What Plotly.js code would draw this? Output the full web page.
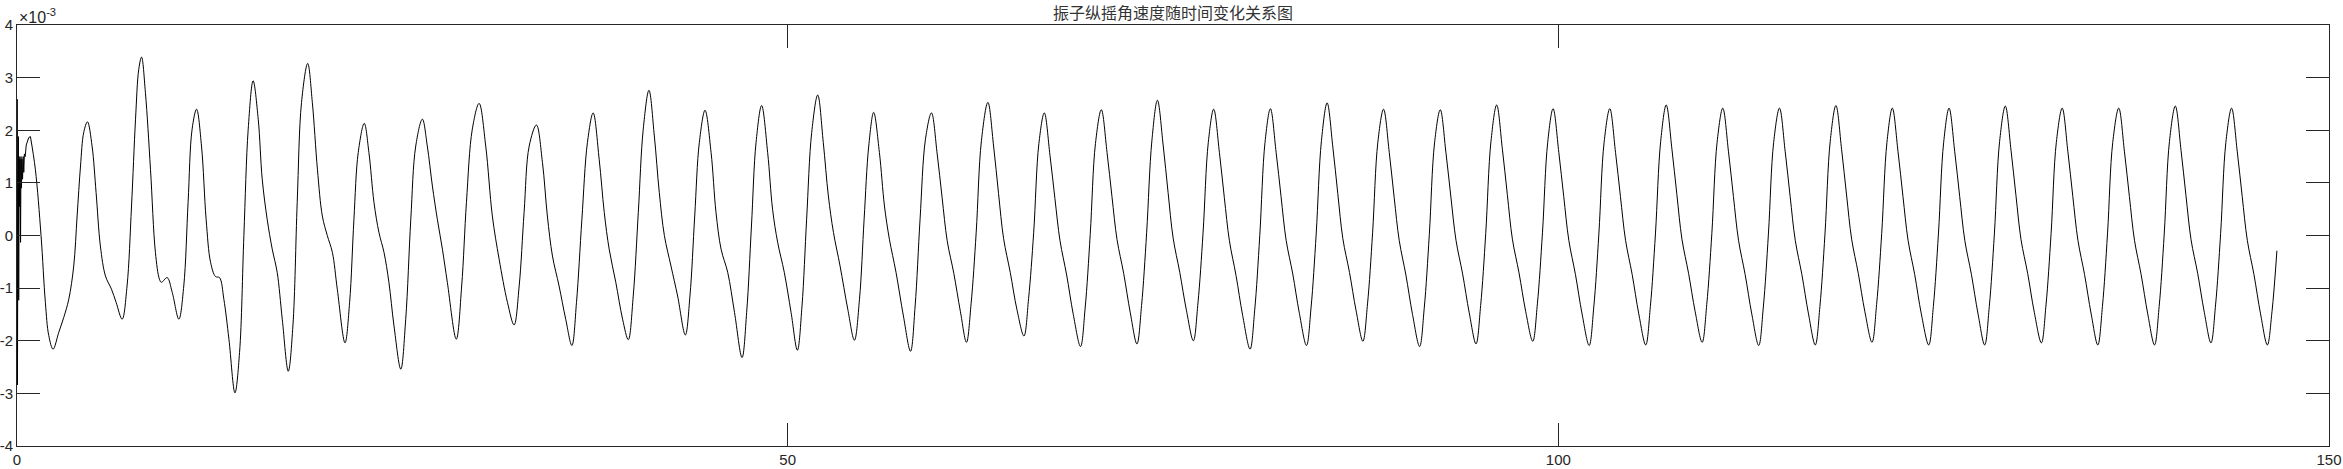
<!DOCTYPE html>
<html>
<head>
<meta charset="utf-8">
<script src="https://cdn.plot.ly/plotly-3.0.1.min.js"></script>
<style>html,body{margin:0;padding:0;background:#fff;}#chart{width:2343px;height:469px;}</style>
</head>
<body>
<div id="chart"></div>
<script>
// Chart text
const titleText = '振子纵摇角速度随时间变化关系图';
const yExponent = '×10<sup>-3</sup>';
const xTicks = [0, 50, 100, 150];
const yTicks = [-4, -3, -2, -1, 0, 1, 2, 3, 4];

// Initial transient (time in s, angular velocity in 1e-3 rad/s)
const tTransient = [0, 0.01, 0.03, 0.06, 0.09, 0.11, 0.14, 0.17, 0.2, 0.23, 0.26, 0.29, 0.32, 0.36, 0.4, 0.44, 0.48, 0.53, 0.6, 0.68, 0.76, 0.87];
const vTransient = [0, 2.59, -2.84, 0.9, 1.88, -1.23, 1.5, 0.55, 1.45, -0.13, 1.5, 0.9, 1.45, 1.07, 1.5, 1.2, 1.55, 1.5, 1.72, 1.82, 1.86, 1.88];

// Main oscillation (time in s)
const tMain = [
  0.87, 1.19, 1.56, 1.84, 2.06, 2.34, 2.71, 3.03, 3.36, 3.68, 3.9, 4.12, 4.33,
  4.57, 4.87, 5.13, 5.41, 5.74, 6.13, 6.43, 6.82, 7.14, 7.43, 7.69, 7.9,
  8.08, 8.33, 8.66, 8.98, 9.24, 9.37, 9.74, 10.07, 10.5, 10.82, 11.1, 11.36,
  11.65, 11.97, 12.27, 12.56, 12.88, 13.14, 13.42, 13.75, 14.14, 14.44, 14.72, 15.0,
  15.32, 15.65, 15.91, 16.23, 16.56, 16.88, 17.21, 17.6, 17.9, 18.18, 18.46,
  18.86, 19.16, 19.49, 19.81, 20.13, 20.46, 20.78, 21.28, 21.58, 21.86, 22.14,
  22.53, 22.83, 23.16, 23.48, 23.81, 24.13, 24.46, 24.9, 25.22, 25.55, 25.87,
  26.3, 26.62, 26.95, 27.27, 27.6, 27.92, 28.5, 28.85, 29.16, 29.54,
  29.98, 30.41, 30.84, 31.28, 31.82, 32.25, 32.58, 32.9, 33.23,
  33.7, 34.09, 34.41, 34.74, 35.17, 35.6, 36.0, 36.3, 36.65, 37.01,
  37.38, 37.77, 38.1, 38.42, 38.85, 39.29, 39.66, 39.98, 40.31, 40.63,
  41.0, 41.35, 41.67, 42.0, 42.43, 42.86, 43.36, 43.66, 43.97, 44.27,
  44.64, 45.03, 45.35, 45.68, 46.11, 46.55, 47.04, 47.34, 47.65, 47.95,
  48.31, 48.7, 49.02, 49.35, 49.78, 50.22, 50.63, 50.93, 51.23, 51.56,
  51.95, 52.31, 52.64, 52.97, 53.4, 53.9, 54.33, 54.66, 54.96, 55.26,
  55.58, 55.95, 56.28, 56.6, 57.03, 57.51, 57.97, 58.27, 58.59, 58.94,
  59.33, 59.7, 60.02, 60.35, 60.78, 61.21, 61.6, 61.9, 62.23, 62.57,
  62.99, 63.36, 63.68, 64.01, 64.44, 64.87, 65.33, 65.63, 65.96, 66.3,
  66.65, 67.02, 67.34, 67.67, 68.1, 68.53, 69.0, 69.3, 69.63, 69.97,
  70.35, 70.72, 71.04, 71.37, 71.8, 72.23, 72.66, 72.96, 73.29, 73.63,
  73.99, 74.36, 74.68, 75.01, 75.44, 75.87, 76.32, 76.62, 76.95, 77.29,
  77.64, 78.01, 78.33, 78.66, 79.09, 79.52, 80.0, 80.3, 80.63, 80.97,
  81.32, 81.69, 82.01, 82.34, 82.77, 83.2, 83.66, 83.96, 84.29, 84.63,
  85.0, 85.37, 85.69, 86.02, 86.45, 86.88, 87.32, 87.62, 87.95, 88.29,
  88.66, 89.03, 89.35, 89.68, 90.11, 90.54, 91.0, 91.3, 91.63, 91.97,
  92.34, 92.71, 93.03, 93.36, 93.79, 94.22, 94.66, 94.96, 95.29, 95.63,
  96.0, 96.37, 96.69, 97.02, 97.45, 97.88, 98.34, 98.64, 98.97, 99.31,
  99.66, 100.03, 100.35, 100.68, 101.11, 101.54, 102.0, 102.3, 102.63, 102.97,
  103.34, 103.71, 104.03, 104.36, 104.79, 105.22, 105.67, 105.97, 106.3, 106.64,
  107.0, 107.37, 107.69, 108.02, 108.45, 108.88, 109.33, 109.63, 109.96, 110.3,
  110.67, 111.04, 111.36, 111.69, 112.12, 112.55, 113.0, 113.3, 113.63, 113.97,
  114.35, 114.72, 115.04, 115.37, 115.8, 116.23, 116.67, 116.97, 117.3, 117.64,
  118.01, 118.38, 118.7, 119.03, 119.46, 119.89, 120.35, 120.65, 120.98, 121.32,
  121.67, 122.04, 122.36, 122.69, 123.12, 123.55, 124.03, 124.33, 124.66, 125.0,
  125.35, 125.72, 126.04, 126.37, 126.8, 127.23, 127.66, 127.96, 128.29, 128.63,
  129.0, 129.37, 129.69, 130.02, 130.45, 130.88, 131.34, 131.64, 131.97, 132.31,
  132.69, 133.06, 133.38, 133.71, 134.14, 134.57, 135.0, 135.3, 135.63, 135.97,
  136.36, 136.73, 137.05, 137.38, 137.81, 138.24, 138.68, 138.98, 139.31, 139.65,
  140.03, 140.4, 140.72, 141.05, 141.48, 141.91, 142.34, 142.64, 142.97, 143.31,
  143.68, 144.05, 144.37, 144.7, 145.13, 145.56, 146.0, 146.3, 146.62
];
const vMain = [
  1.88, 1.26, 0, -1.27, -1.9, -2.16, -1.84, -1.56, -1.21, -0.58, 0.37, 1.32, 1.96,
  2.16, 1.7, 0.82, -0.2, -0.77, -1.02, -1.27, -1.59, -0.96, 0.56, 2.21, 3.16,
  3.39, 2.72, 1.26, -0.32, -0.83, -0.89, -0.8, -1.08, -1.59, -0.96, 0.63, 2.02,
  2.4, 1.7, 0.31, -0.51, -0.78, -0.8, -1.21, -1.97, -2.99, -2.22, 0, 2.02,
  2.94, 2.21, 1.07, 0.31, -0.26, -0.7, -1.59, -2.58, -1.72, 0.63, 2.53,
  3.27, 2.53, 1.26, 0.37, 0, -0.32, -1.02, -2.04, -1.27, 0.31, 1.58,
  2.13, 1.58, 0.63, 0.06, -0.32, -0.89, -1.72, -2.54, -1.59, 0.31, 1.7,
  2.21, 1.7, 0.94, 0.31, -0.26, -0.89, -1.97, -0.96, 0.63, 2.02,
  2.51, 1.7, 0.37, -0.45, -1.27, -1.7, -0.96, 0.44, 1.7,
  2.1, 1.39, 0.37, -0.39, -0.96, -1.59, -2.09, -1.27, 0.31, 1.77,
  2.33, 1.45, 0.44, -0.26, -0.89, -1.59, -1.98, -1.15, 0.44, 2.02,
  2.76, 1.89, 0.82, 0, -0.58, -1.15, -1.89, -1.15, 0.37, 1.77,
  2.38, 1.58, 0.44, -0.26, -0.7, -1.46, -2.32, -1.46, 0.18, 1.77,
  2.47, 1.58, 0.5, -0.13, -0.7, -1.46, -2.18, -1.34, 0.31, 1.96,
  2.67, 1.77, 0.75, 0.06, -0.58, -1.4, -1.99, -1.21, 0.31, 1.7,
  2.34, 1.58, 0.56, -0.07, -0.7, -1.53, -2.2, -1.34, 0.31, 1.83,
  2.33, 1.55, 0.72, -0.1, -0.72, -1.45, -2.03, -1.3, 0.05, 1.8,
  2.53, 1.7, 0.8, -0.06, -0.7, -1.4, -1.91, -1.2, 0.05, 1.75,
  2.33, 1.52, 0.7, -0.1, -0.75, -1.5, -2.11, -1.38, 0.02, 1.75,
  2.39, 1.58, 0.74, -0.08, -0.72, -1.47, -2.06, -1.33, 0.05, 1.8,
  2.57, 1.72, 0.82, -0.05, -0.7, -1.42, -2.0, -1.28, 0.05, 1.77,
  2.4, 1.58, 0.72, -0.1, -0.76, -1.52, -2.16, -1.42, 0.0, 1.77,
  2.41, 1.58, 0.74, -0.09, -0.73, -1.48, -2.09, -1.36, 0.03, 1.8,
  2.52, 1.68, 0.8, -0.06, -0.7, -1.43, -2.01, -1.3, 0.05, 1.77,
  2.4, 1.58, 0.72, -0.1, -0.75, -1.5, -2.11, -1.38, 0.02, 1.76,
  2.39, 1.57, 0.73, -0.09, -0.73, -1.47, -2.06, -1.33, 0.04, 1.79,
  2.48, 1.64, 0.78, -0.07, -0.71, -1.44, -2.01, -1.3, 0.05, 1.77,
  2.41, 1.58, 0.74, -0.09, -0.74, -1.49, -2.09, -1.36, 0.03, 1.77,
  2.41, 1.58, 0.74, -0.09, -0.74, -1.49, -2.08, -1.35, 0.03, 1.79,
  2.48, 1.64, 0.78, -0.07, -0.72, -1.45, -2.03, -1.31, 0.04, 1.77,
  2.42, 1.59, 0.74, -0.09, -0.74, -1.49, -2.09, -1.36, 0.03, 1.77,
  2.42, 1.59, 0.74, -0.09, -0.74, -1.49, -2.08, -1.35, 0.03, 1.79,
  2.47, 1.63, 0.77, -0.07, -0.72, -1.45, -2.03, -1.31, 0.04, 1.77,
  2.42, 1.59, 0.74, -0.09, -0.74, -1.49, -2.08, -1.35, 0.03, 1.77,
  2.42, 1.59, 0.74, -0.09, -0.74, -1.49, -2.08, -1.35, 0.03, 1.79,
  2.46, 1.62, 0.76, -0.08, -0.72, -1.46, -2.04, -1.32, 0.04, 1.77,
  2.42, 1.59, 0.74, -0.09, -0.74, -1.49, -2.08, -1.35, 0.03, 1.77,
  2.42, 1.59, 0.74, -0.09, -0.74, -1.49, -2.08, -1.35, 0.03, 1.79,
  2.46, 1.62, 0.76, -0.08, -0.72, -1.46, -2.04, -1.32, 0.04, 1.77,
  2.42, 1.59, 0.74, -0.09, -0.74, -1.49, -2.08, -1.45, -0.29
];

const axisColor = '#262626';
const tickFont = {family: 'Liberation Sans, Arial, sans-serif', size: 15, color: axisColor};

const traces = [
  {x: tTransient, y: vTransient, type: 'scatter', mode: 'lines',
   line: {color: '#000000', width: 1, shape: 'linear'}, hoverinfo: 'skip'},
  {x: tMain, y: vMain, type: 'scatter', mode: 'lines',
   line: {color: '#000000', width: 1, shape: 'spline', smoothing: 1}, hoverinfo: 'skip'}
];

const commonAxis = {
  ticks: 'inside', ticklen: 23, tickwidth: 1, tickcolor: axisColor,
  showline: true, linecolor: axisColor, linewidth: 1, mirror: 'ticks',
  showgrid: false, zeroline: false, tickfont: tickFont, automargin: false
};

const layout = {
  width: 2343, height: 469,
  margin: {l: 17, r: 14, t: 25, b: 23, pad: 0},
  paper_bgcolor: '#ffffff', plot_bgcolor: '#ffffff',
  showlegend: false,
  title: {text: titleText, x: 0.5, xref: 'paper', y: 0.972, yref: 'container', yanchor: 'middle',
          font: {family: 'Noto Sans CJK SC, sans-serif', size: 16, color: '#333333'}},
  xaxis: Object.assign({}, commonAxis, {range: [0, 150], tickmode: 'array', tickvals: xTicks, ticktext: xTicks.map(String)}),
  yaxis: Object.assign({}, commonAxis, {range: [-4, 4], tickmode: 'array', tickvals: yTicks, ticktext: yTicks.map(String)}),
  annotations: [{
    text: yExponent, xref: 'paper', yref: 'paper', x: 0, y: 1, xanchor: 'left', yanchor: 'bottom',
    showarrow: false, font: {family: 'Liberation Sans, Arial, sans-serif', size: 16, color: axisColor},
    xshift: 0, yshift: -3
  }]
};

Plotly.newPlot('chart', traces, layout, {staticPlot: true, displayModeBar: false});
</script>
</body>
</html>
